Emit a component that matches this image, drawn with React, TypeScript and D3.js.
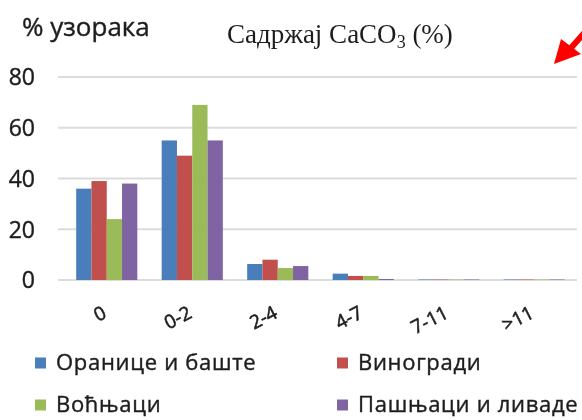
import React from "react";
import * as d3 from "d3";

const categories = ["0", "0-2", "2-4", "4-7", "7-11", ">11"];
const seriesNames = ["Оранице и баште", "Виногради", "Воћњаци", "Пашњаци и ливаде"];
const oranice = [36, 55, 6.3, 2.5, 0.2, 0.2];
const vinogradi = [39, 49, 8, 1.6, 0.2, 0.2];
const vocnjaci = [24, 69, 4.7, 1.6, 0.2, 0.2];
const pasnjaci = [38, 55, 5.5, 0.4, 0.2, 0.2];
const yTicks = [0, 20, 40, 60, 80];
const colors = ["#4a7ebb", "#c0504d", "#9bbb59", "#8064a2"];

export default function App() {
  const W = 582;
  const H = 420;
  const plotLeft = 58;
  const plotRight = 577;
  const series = [oranice, vinogradi, vocnjaci, pasnjaci];

  const y = d3.scaleLinear().domain([0, 80]).range([280, 77]);
  const x0 = d3
    .scaleBand<string>()
    .domain(categories)
    .range([64, plotRight])
    .paddingInner(0.285)
    .paddingOuter(0.1425);
  const x1 = d3
    .scaleBand<number>()
    .domain(d3.range(series.length))
    .range([0, x0.bandwidth()]);

  const sans = "'Open Sans', 'Liberation Sans', sans-serif";
  const ink = "#1e1e1e";
  const textStroke = { stroke: ink, strokeWidth: 0.4 };

  return (
    <svg
      width={W}
      height={H}
      style={{ position: "absolute", left: 0, top: 0, background: "#fff" }}
      fontFamily={sans}
    >
      <defs>
        <filter id="soft" x="-5%" y="-5%" width="110%" height="110%">
          <feGaussianBlur stdDeviation="0.45" />
        </filter>
      </defs>
      <g filter="url(#soft)">
        {/* gridlines */}
        {yTicks.map((t) => (
          <line
            key={t}
            x1={plotLeft}
            x2={plotRight}
            y1={y(t)}
            y2={y(t)}
            stroke="#dcdcdc"
            strokeWidth={1.8}
          />
        ))}
        {/* y tick labels */}
        {yTicks.map((t) => (
          <text
            key={t}
            x={35}
            y={y(t)}
            dy="0.36em"
            textAnchor="end"
            fontSize={23}
            fill={ink}
            {...textStroke}
          >
            {t}
          </text>
        ))}
        {/* bars */}
        {categories.map((c, ci) => (
          <g key={c} transform={`translate(${x0(c)},0)`}>
            {series.map((s, si) => (
              <rect
                key={si}
                x={x1(si)}
                y={y(s[ci])}
                width={x1.bandwidth()}
                height={y(0) - y(s[ci])}
                fill={colors[si]}
              />
            ))}
          </g>
        ))}
        {/* x tick labels, end-anchored under each category */}
        {categories.map((c) => {
          const cx = (x0(c) as number) + x0.bandwidth() / 2;
          return (
            <text
              key={c}
              transform={`translate(${cx + 1},${317}) rotate(-27)`}
              textAnchor="end"
              fontSize={19}
              fill={ink}
              stroke={ink}
              strokeWidth={0.55}
            >
              {c}
            </text>
          );
        })}
        {/* titles */}
        <text x={22} y={36} fontSize={26} fill={ink} {...textStroke}>
          % узорака
        </text>
        <text
          x={227}
          y={43}
          fontSize={27}
          fill={ink}
          fontFamily="'Liberation Serif', 'DejaVu Serif', serif"
        >
          Садржај CaCO
          <tspan fontSize={18} dy={5}>3</tspan>
          <tspan dy={-5}> (%)</tspan>
        </text>
        {/* legend */}
        {seriesNames.map((name, i) => {
          const lx = i % 2 === 0 ? 35 : 337;
          const ly = i < 2 ? 363 : 405;
          return (
            <g key={name}>
              <rect x={lx} y={ly - 5.5} width={11} height={11} fill={colors[i]} />
              <text
                x={lx + 21}
                y={ly + 7}
                fontSize={22}
                letterSpacing={0.7}
                fill={ink}
                {...textStroke}
              >
                {name}
              </text>
            </g>
          );
        })}
        {/* red arrow */}
        <line x1={594} y1={22} x2={570} y2={49} stroke="#f00" strokeWidth={6} />
        <polygon points="554,64 561,39 581,54" fill="#f00" />
      </g>
    </svg>
  );
}
